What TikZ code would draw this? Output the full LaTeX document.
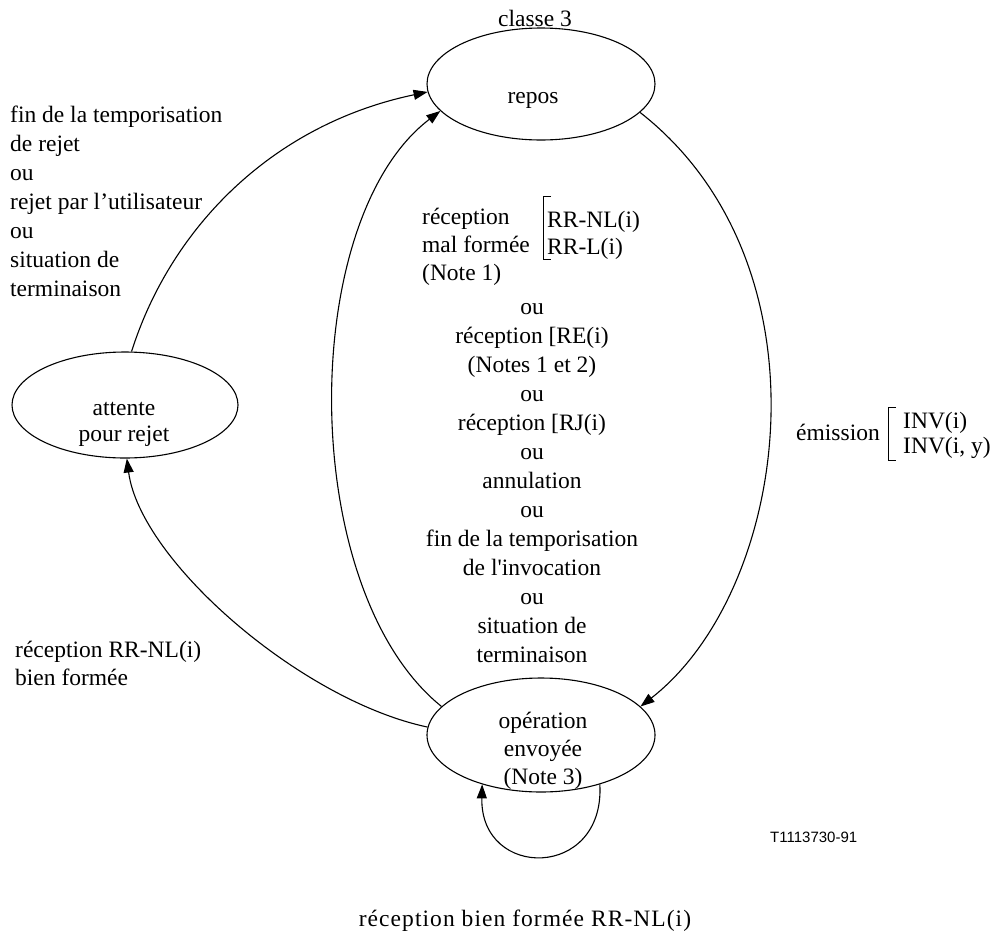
\documentclass[tikz,border=0pt]{standalone}
\usepackage{fontspec}
\setmainfont{Liberation Serif}
\newfontfamily\labelsans{Liberation Sans}
\usetikzlibrary{shapes.geometric,arrows.meta}
% zero-width strut fixing the top of the first line of a multi-line label
\newcommand\firstln{\rule{0pt}{20pt}}
\begin{document}
\begin{tikzpicture}[x=1pt,y=-1pt,
  state/.style={draw, ellipse, line width=1.1pt, inner sep=0pt},
  txt/.style={inner sep=0pt, font=\fontsize{23.5}{29}\selectfont},
  flow/.style={line width=1.1pt, -{Triangle[length=14pt,width=10pt]}},
  brack/.style={line width=1pt}]
\useasboundingbox (0,0) rectangle (994,935);

% states
\node[state, minimum width=228pt, minimum height=112pt] (repos) at (541,84) {};
\node[state, minimum width=226pt, minimum height=106pt] (attente) at (125,405) {};
\node[state, minimum width=228pt, minimum height=114pt] (op) at (541,735) {};

% state labels
\node[txt, anchor=base] (classe) at (535,26) {classe 3};
\node[txt, anchor=base] (repostxt) at (533,103) {repos};
\node[txt, anchor=north, align=center, font=\fontsize{23.5}{26}\selectfont] (attentetxt) at (124,395)
  {\firstln attente\\pour rejet};
\node[txt, anchor=north, align=center, font=\fontsize{23.5}{28}\selectfont] (optxt) at (543,708)
  {\firstln opération\\envoyée\\(Note 3)};

% transitions
\draw[flow] (attente.83) .. controls (170,230) and (270,125) .. (repos.184);
\draw[flow] (op.164) .. controls (297,590) and (297,220) .. (repos.195);
\draw[flow] (op.176) .. controls (300,700) and (140,560) .. (attente.-88);
\draw[flow] (repos.344) .. controls (835,265) and (790,590) .. (op.16);
\draw[flow] (op.-40) .. controls (605,880) and (480,880) .. (op.-140);

% transition labels
\node[txt, anchor=north west, align=left] (rejet) at (10,102)
  {\firstln fin de la temporisation\\de rejet\\ou\\rejet par l’utilisateur\\ou\\situation de\\terminaison};

\node[txt, anchor=north west, align=left, font=\fontsize{23.5}{28}\selectfont] (malf) at (422,204)
  {\firstln réception\\mal formée\\(Note 1)};
\node[txt, anchor=north west, align=left, font=\fontsize{23.5}{27}\selectfont] (rrlist) at (547,207)
  {\firstln RR-NL(i)\\RR-L(i)};
\draw[brack] (551,196) -- (543,196) -- (543,259) -- (551,259);

\node[txt, anchor=north, align=center] (retour) at (532,294)
  {\firstln ou\\réception [RE(i)\\(Notes 1 et 2)\\ou\\réception [RJ(i)\\ou\\annulation\\ou\\fin de la temporisation\\de l\textquotesingle invocation\\ou\\situation de\\terminaison};

\node[txt, anchor=base east] (emission) at (880,440) {émission};
\draw[brack] (896,407) -- (888,407) -- (888,460) -- (896,460);
\node[txt, anchor=north west, align=left, font=\fontsize{23.5}{25}\selectfont] (invlist) at (903,408)
  {\firstln INV(i)\\INV(i, y)};

\node[txt, anchor=north west, align=left, font=\fontsize{23.5}{28}\selectfont] (bienf) at (15,637)
  {\firstln réception RR-NL(i)\\bien formée};

\node[txt, anchor=base, font=\fontsize{23.5}{29}\selectfont\addfontfeature{LetterSpace=4.5}] (boucle) at (525,926)
  {réception bien formée RR-NL(i)};

\node[inner sep=0pt, anchor=base west, font=\labelsans\fontsize{15}{18}\selectfont] (ref) at (770,842) {T1113730-91};
\end{tikzpicture}
\end{document}
